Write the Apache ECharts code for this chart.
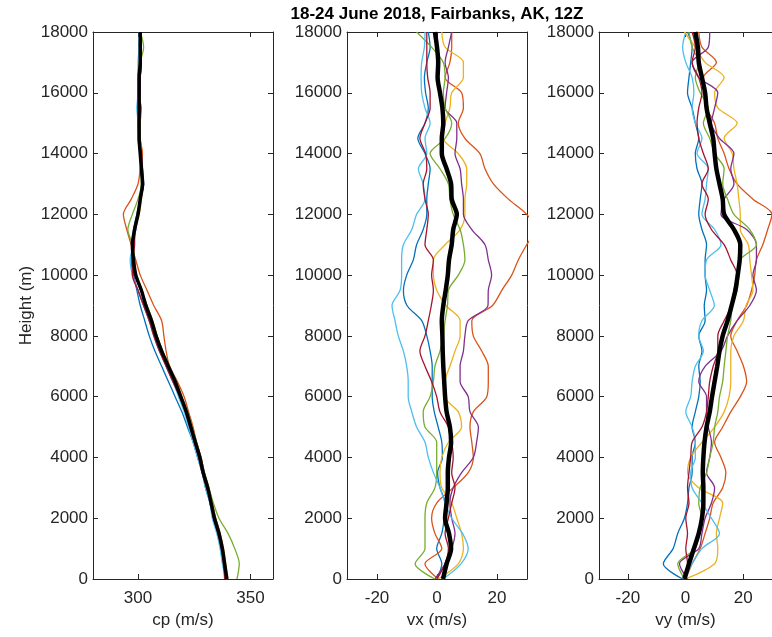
<!DOCTYPE html>
<html>
<head>
<meta charset="utf-8">
<script src="https://cdn.jsdelivr.net/npm/echarts@6/dist/echarts.min.js"></script>
<style>
  html, body { margin: 0; padding: 0; background: #fff; }
  #chart { width: 772px; height: 637px; }
</style>
</head>
<body>
<div id="chart"></div>
<script>
// Sounding levels (m)
const heights = [0, 500, 1000, 1500, 2000, 2500, 3000, 3500, 4000, 4500, 5000, 5500, 6000,
  6500, 7000, 7500, 8000, 8500, 9000, 9500, 10000, 10500, 11000, 11500, 12000, 12500, 13000,
  13500, 14000, 14500, 15000, 15500, 16000, 16500, 17000, 17500, 18000];

// Daily soundings 18..24 June, 12Z, and the weekly mean
// cp: sound speed (m/s)
const cpDay1 = [339.5, 338, 337, 335.5, 333.5, 332, 330, 328.5, 326.5, 324.5, 322, 319.5, 316.5, 313.5, 310.5, 307.5, 305, 303, 301, 299.5, 298, 297, 297.5, 298, 299.5, 301, 302.5, 302, 301, 300.5, 300, 300, 300.5, 300.5, 301, 300.5, 301];
const cpDay2 = [339, 338.5, 337.5, 336.5, 334.5, 333, 331.5, 329.5, 328, 326, 324.5, 322.5, 320.5, 317.5, 314, 312.5, 311.5, 310.5, 307, 304, 301, 299, 297, 295, 293.5, 297, 300, 301, 302, 301, 301, 301.5, 300, 300, 300.5, 301.5, 301.5];
const cpDay3 = [340, 339, 338, 336.5, 334.5, 333, 331.5, 329.5, 328, 326, 324, 322, 319.5, 317, 314, 311, 308.5, 306.5, 304, 301.5, 299, 298.5, 298, 298.5, 300.5, 301.5, 302, 301.5, 301.5, 301, 301, 300.5, 300.5, 300.5, 301, 301, 301.5];
const cpDay4 = [339.5, 338, 337, 335.5, 333.5, 332, 330.5, 328.5, 327, 325, 323, 321, 318.5, 315.5, 312.5, 310, 307.5, 305, 302.5, 300, 298, 298.5, 297.5, 299, 300, 301, 302.5, 301.5, 301, 300.5, 300, 300.5, 301, 301, 301.5, 301, 301];
const cpDay5 = [344, 345, 343, 340, 336, 333.5, 331.5, 329.5, 328, 326, 324, 322, 319.5, 316.5, 313.5, 311, 308.5, 306.5, 304, 301.5, 299.5, 298, 297.5, 295.5, 297.5, 300, 301.5, 301.5, 301.5, 301, 300.5, 300.5, 300, 300.5, 301, 302.5, 301];
const cpDay6 = [339, 337.5, 336.5, 335, 333, 332, 330, 328.5, 326.5, 324.5, 322.5, 320.5, 318, 315.5, 312.5, 309.5, 307, 305, 302.5, 300, 297.5, 296.5, 298, 299, 299.5, 301, 302, 301.5, 301, 300, 300, 299.5, 300, 300, 300, 300.5, 300.5];
const cpDay7 = [338.5, 338, 337, 335.5, 333.5, 332.5, 330.5, 328.5, 327, 325, 323, 321, 318.5, 315.5, 312.5, 309.5, 307, 305, 302.5, 300, 297.5, 297.5, 298.5, 298.5, 300, 301, 302, 302, 301.5, 300.5, 300.5, 301, 300.5, 301, 301.5, 301, 301];
const cpMean = [339.5, 338.5, 337.5, 336, 334, 332.5, 331, 329, 327.5, 325.5, 323.5, 321.5, 319, 316.5, 313.5, 310.5, 308, 306, 303.5, 301.5, 299, 298, 297.5, 298.5, 300, 301, 302, 301.5, 301, 300.5, 300.5, 300.5, 300.5, 300.5, 301, 301, 301];

// vx: zonal wind (m/s)
const vxDay1 = [0, 1.6, -0.1, 1.6, 2.4, 2.7, 1, 0.2, 1.8, 1.6, 0.4, -0.9, -1.6, -1.6, -1.6, -2.3, -3.4, -5.1, -10, -11.2, -10.1, -7.9, -6.8, -4.6, -3.4, -3.4, -2.9, -2.3, -4, -6.4, -4, -2.9, -3.8, -4.2, -3.4, -2.3, -2.9];
const vxDay2 = [0.4, -4, 1.6, -0.7, -1.8, -0.1, 5.4, 10.4, 12.1, 11.6, 11, 12.1, 16.6, 17.1, 17.1, 14.9, 12.1, 11.6, 18.5, 21.6, 24.9, 27.1, 29.9, 33, 29.9, 23.8, 18.8, 16, 14.3, 9.3, 7.1, 8.8, 8.2, 2.7, 4.3, 4.9, 4.9];
const vxDay3 = [0.4, 7.1, 8.8, 8.2, 6.6, 4.9, 1.6, 1, 1.6, 3.8, 8.2, 7.1, 2.7, 2.7, 4.3, 6, 7.7, 7.7, 3, -0.1, -1.2, -1.2, 2.7, 7.7, 9.3, 9.3, 9.9, 9.9, 7.1, 2.1, 2.7, 4.3, 4.9, 8.8, 8.8, 2.7, 1.6];
const vxDay4 = [-0.7, 2.7, 4.9, 6, 4.9, 4.3, 5.4, 8.2, 12.1, 13.2, 13.8, 11, 10.4, 7.7, 7.7, 8.8, 9.3, 10.4, 17, 17.1, 18.2, 17.1, 16, 11.6, 8.8, 8.8, 8.2, 7.7, 6, 6.6, 6.6, 2.7, 3.2, 3.8, 2.7, 3.8, 4.9];
const vxDay5 = [-0.7, -7.3, -4, -4, -4, -3.4, -0.7, -0.1, -0.1, -0.1, -4, -4.6, -2.3, -1.2, -0.7, 1, 2.1, 2.7, 3.5, 3.8, 7.1, 9.3, 8.8, 7.7, 5.4, 4.3, 3.8, 1, -2.3, 2.7, 4.9, 2.7, 2.1, 2.7, 2.1, -1.8, -6.8];
const vxDay6 = [2, 8, 10.4, 8.5, 4.9, 2.7, 1, -1.2, -2.9, -4, -6.8, -8.4, -9.6, -9.6, -10.1, -11.2, -12.9, -14, -15, -12.3, -11.8, -11.8, -11.2, -8.4, -6.8, -4, -4.6, -6.2, -3.4, -4, -2.3, -4, -5.1, -5.3, -5.1, -4.2, -4];
const vxDay7 = [0, 2.7, 3.8, 2.7, 3.8, 4.9, 6, 4.9, 5.4, 4.9, 3.8, 1, -0.1, -1.8, -4, -5.7, -4, -2.9, -1.9, -1.2, -1.8, -1.2, -4, -3.4, -2.9, -4, -4.6, -3.4, -3.8, -5.7, -4, -2.3, -2.3, -3.1, -3.4, -3.4, -3.4];
const vxMean = [2, 3.2, 4.7, 4, 2.7, 3.2, 3.6, 3.6, 4, 4.7, 4.3, 3.2, 2.7, 2.4, 2.1, 1.9, 1.8, 1.6, 2.1, 2.9, 3.6, 4, 4.9, 5.4, 6.6, 4.9, 4.7, 3.2, 1.6, 1.6, 2.1, 1.8, 1, 0.2, 0.4, 0, -0.7];

// vy: meridional wind (m/s)
const vyDay1 = [-1, -7.7, -4.3, -2.7, -0.4, 0.7, 1.2, 2.3, 2.3, 3.4, 2.3, 3.4, 4.6, 5.1, 4.6, 5.7, 4.6, 6.8, 6.5, 7.3, 6.8, 6.8, 7.3, 5.7, 4.6, 5.1, 5.7, 4, 3.4, 4.6, 3.4, 2.3, 0.7, 1.2, 1.8, 2.3, 0.7];
const vyDay2 = [0.1, 2.3, 5.1, 6.8, 8.4, 9.6, 12.9, 14, 12.3, 10.1, 12.9, 15.7, 19, 21.2, 20.1, 17.9, 15.7, 17.9, 21.2, 22.9, 24, 24.6, 26.8, 28.5, 30, 23.4, 17.9, 15.1, 13.4, 11.2, 10.1, 7.3, 6.8, 6.2, 10.7, 5.7, 4.6];
const vyDay3 = [0, 10.1, 11.2, 10.7, 11.8, 12.9, 4.6, 0.7, 1.8, 5.7, 10.1, 13.4, 15.1, 15.7, 15.7, 15.7, 16.8, 20.1, 21, 23.4, 22.9, 22.3, 21.8, 19, 19, 18.5, 17.9, 16.8, 16.2, 13.4, 17.9, 11.2, 10.1, 13.4, 6.8, 3.4, -0.4];
const vyDay4 = [0.7, -2.1, 4.6, 5.7, 6.8, 9, 10.1, 7.3, 8.4, 9, 7.9, 7.3, 7.3, 4.6, 6.8, 12.3, 14.6, 17.9, 22.3, 24.6, 23.4, 24.6, 24.6, 21.2, 12.3, 13.4, 16.8, 15.7, 16.8, 11.8, 9, 10.1, 11.2, 4.6, 2.3, 7.9, 8.4];
const vyDay5 = [-0.4, -2.7, 3.4, 4.6, 5.7, 4.6, 5.1, 7.3, 8.4, 9.6, 10.1, 11.2, 11.8, 12.9, 13.4, 14, 14.6, 15.7, 16.2, 17.9, 18.5, 19, 24.6, 22.3, 16.8, 14.6, 12.9, 13.4, 10.1, 8.4, 6.2, 7.9, 5.1, 3.4, 4.6, 2.3, 1.2];
const vyDay6 = [-0.4, 2.3, 5.7, 11.8, 9, 5.7, 2.3, 1.8, 3.4, 3.4, 2.3, 0.1, 1.8, 2.3, 3.4, 6.2, 4.6, 5.7, 10, 8.4, 6.8, 7.3, 12.3, 10.1, 5.7, 6.8, 7.3, 7.9, 4, 5.7, 3.4, 2.3, 2.9, 2.3, 0.1, -1, 0.1];
const vyDay7 = [0.1, 0.7, 0.1, 0.7, 0.1, 1.2, 0.7, 1.2, 1.8, 2.3, 5.7, 7.3, 7.9, 8.4, 9.6, 11.2, 11.2, 13.4, 16, 16.8, 17.9, 15.7, 13.4, 9, 6.8, 7.9, 5.7, 7.9, 6.2, 4.6, 4, 4.6, 5.7, 4.6, 2.3, 3.4, 2.3];
const vyMean = [-0.4, 1.2, 2.9, 4.6, 5.7, 6.2, 6.2, 6, 6.2, 6.6, 7.3, 8.4, 9.2, 10.1, 11, 11.8, 12.9, 14.6, 16, 17.3, 18.1, 18.8, 19, 16.8, 13.4, 12.9, 11.8, 10.7, 10.1, 9.6, 8.4, 7.3, 6.8, 5.7, 4.6, 4.3, 3.4];

// Axis ticks
const heightTicks = [0, 2000, 4000, 6000, 8000, 10000, 12000, 14000, 16000, 18000];
const cpTicks = [300, 350];
const windTicks = [-20, 0, 20];

const titleText = '18-24 June 2018, Fairbanks, AK, 12Z';
const dayColors = ['#0072BD', '#D95319', '#EDB120', '#7E2F8E', '#77AC30', '#4DBEEE', '#A2142F'];

const FONT = '"Liberation Sans", Arial, Helvetica, sans-serif';
const AXIS_COLOR = '#262626';

const panels = [
  { left: 93,  min: 280, max: 360, ticks: cpTicks,   name: 'cp (m/s)', meanWidth: 3.5, days: [cpDay1, cpDay2, cpDay3, cpDay4, cpDay5, cpDay6, cpDay7], mean: cpMean },
  { left: 347, min: -30, max: 30,  ticks: windTicks, name: 'vx (m/s)', meanWidth: 4.5, days: [vxDay1, vxDay2, vxDay3, vxDay4, vxDay5, vxDay6, vxDay7], mean: vxMean },
  { left: 599, min: -30, max: 30,  ticks: windTicks, name: 'vy (m/s)', meanWidth: 4.5, days: [vyDay1, vyDay2, vyDay3, vyDay4, vyDay5, vyDay6, vyDay7], mean: vyMean }
];

const grid = [], xAxis = [], yAxis = [], series = [];
const lineAxis = { show: true, onZero: false, lineStyle: { color: AXIS_COLOR, width: 1 } };

panels.forEach((p, i) => {
  grid.push({ left: p.left, top: 32, width: 180, height: 547, containLabel: false });

  // bottom x axis with labels
  xAxis.push({
    gridIndex: i, type: 'value', position: 'bottom', min: p.min, max: p.max,
    axisLine: lineAxis,
    axisTick: { show: true, inside: true, length: 5, customValues: p.ticks, lineStyle: { color: AXIS_COLOR } },
    axisLabel: { show: true, customValues: p.ticks, margin: 11, fontSize: 17, fontFamily: FONT, color: AXIS_COLOR, formatter: v => String(v) },
    splitLine: { show: false },
    name: p.name, nameLocation: 'middle', nameGap: 32,
    nameTextStyle: { fontSize: 17, fontFamily: FONT, color: AXIS_COLOR }
  });
  // top x axis (box edge)
  xAxis.push({
    gridIndex: i, type: 'value', position: 'top', min: p.min, max: p.max,
    axisLine: lineAxis,
    axisTick: { show: true, inside: true, length: 5, customValues: p.ticks, lineStyle: { color: AXIS_COLOR } },
    axisLabel: { show: false },
    splitLine: { show: false }
  });
  // left y axis with labels
  yAxis.push({
    gridIndex: i, type: 'value', position: 'left', min: 0, max: 18000, interval: 2000,
    axisLine: lineAxis,
    axisTick: { show: true, inside: true, length: 5, lineStyle: { color: AXIS_COLOR } },
    axisLabel: { show: true, margin: 5, fontSize: 17, fontFamily: FONT, color: AXIS_COLOR, formatter: v => String(v) },
    splitLine: { show: false },
    name: i === 0 ? 'Height (m)' : '', nameLocation: 'middle', nameGap: 58, nameRotate: 90,
    nameTextStyle: { fontSize: 17, fontFamily: FONT, color: AXIS_COLOR }
  });
  // right y axis (box edge)
  yAxis.push({
    gridIndex: i, type: 'value', position: 'right', min: 0, max: 18000, interval: 2000,
    axisLine: lineAxis,
    axisTick: { show: true, inside: true, length: 5, lineStyle: { color: AXIS_COLOR } },
    axisLabel: { show: false },
    splitLine: { show: false }
  });

  p.days.forEach((vals, d) => {
    series.push({
      type: 'line', xAxisIndex: 2 * i, yAxisIndex: 2 * i,
      data: vals.map((v, k) => [v, heights[k]]),
      showSymbol: false, smooth: 0.3, clip: true, z: 2,
      lineStyle: { color: dayColors[d], width: 1.3 },
      itemStyle: { color: dayColors[d] }
    });
  });
  series.push({
    type: 'line', xAxisIndex: 2 * i, yAxisIndex: 2 * i,
    data: p.mean.map((v, k) => [v, heights[k]]),
    showSymbol: false, smooth: 0.3, clip: true, z: 3,
    lineStyle: { color: '#000', width: p.meanWidth },
    itemStyle: { color: '#000' }
  });
});

const chart = echarts.init(document.getElementById('chart'));
chart.setOption({
  animation: false,
  backgroundColor: '#fff',
  grid, xAxis, yAxis, series,
  graphic: [{
    type: 'text', x: 437, y: 6,
    style: { text: titleText, font: 'bold 17px ' + FONT, fill: '#000', textAlign: 'center', textVerticalAlign: 'top' }
  }]
});
</script>
</body>
</html>
